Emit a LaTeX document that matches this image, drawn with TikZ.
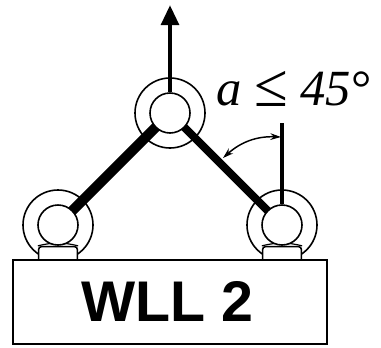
\documentclass[tikz,border=0pt]{standalone}
\usepackage{fontspec}
\setmainfont{Liberation Serif}
\newfontfamily\labelfont{Liberation Sans}
\usetikzlibrary{positioning, arrows.meta, backgrounds}
\tikzset{
  eyering/.style={circle, draw, line width=1.2pt, minimum size=52.5pt, inner sep=0pt},
  eyehole/.style={circle, draw, fill=white, line width=1.2pt, minimum size=30pt, inner sep=0pt},
  lugbase/.style={rectangle, draw, fill=white, line width=1.2pt, rounded corners=2pt, minimum width=29pt, minimum height=14pt, inner sep=0pt},
  sling/.style={line width=7.6pt},
  rope/.style={line width=3.4pt}
}
\begin{document}
\begin{tikzpicture}[x=0.75pt, y=-0.75pt]
\useasboundingbox (0,0) rectangle (381,347);

% top ring, load goes up from here
\node[eyering] (topring) at (170,113) {};
\node[eyehole] (tophole) at (170,113) {};

% left eye bolt
\node[eyering] (leftring) at (58,225) {};
\node[lugbase] (leftlug) at (58,256) {};
\draw[line width=0.9pt] (leftlug.north west) to[bend left=14] (leftlug.north east);
\node[eyehole] (lefthole) at (58,225) {};

% right eye bolt
\node[eyering] (rightring) at (282,225) {};
\node[lugbase] (rightlug) at (282,256) {};
\draw[line width=0.9pt] (rightlug.north west) to[bend left=14] (rightlug.north east);
\node[eyehole] (righthole) at (282,225) {};

% load block
\node[rectangle, draw, fill=white, line width=1.2pt, minimum width=235.5pt, minimum height=63pt, inner sep=0pt] (block) at (170,302) {};
\node[font=\labelfont\bfseries\fontsize{43}{43}\selectfont, inner sep=0pt] (blocklabel) at (167,301) {WLL 2};

% slings under the holes
\begin{scope}[on background layer]
\draw[sling] (tophole.center) -- (lefthole.center);
\draw[line width=6pt] (tophole.center) -- (righthole.center);
\end{scope}

% lift arrow and reference line
\coordinate (lifttip) at (170,5);
\coordinate (refend) at (282,123);
\draw[rope, -{Triangle[length=15pt, width=13pt]}] (tophole.north) -- (lifttip);
\draw[line width=2.8pt] (righthole.north) -- (refend);

% angle
\coordinate (angleA) at (223,158);
\coordinate (angleB) at (281,137);
\draw[line width=1.1pt, {Stealth[length=8pt, width=5pt]}-{Stealth[length=8pt, width=5pt]}] (angleA) to[bend left=22] (angleB);
\node[font=\fontsize{38}{38}\selectfont, inner sep=0pt, anchor=base west] (anglelabel) at (216,105) {\textit{a}\hspace{10pt}\raisebox{-1pt}{\fontsize{46}{46}\selectfont ≤}\hspace{9pt}\textit{45}°};
\end{tikzpicture}
\end{document}
